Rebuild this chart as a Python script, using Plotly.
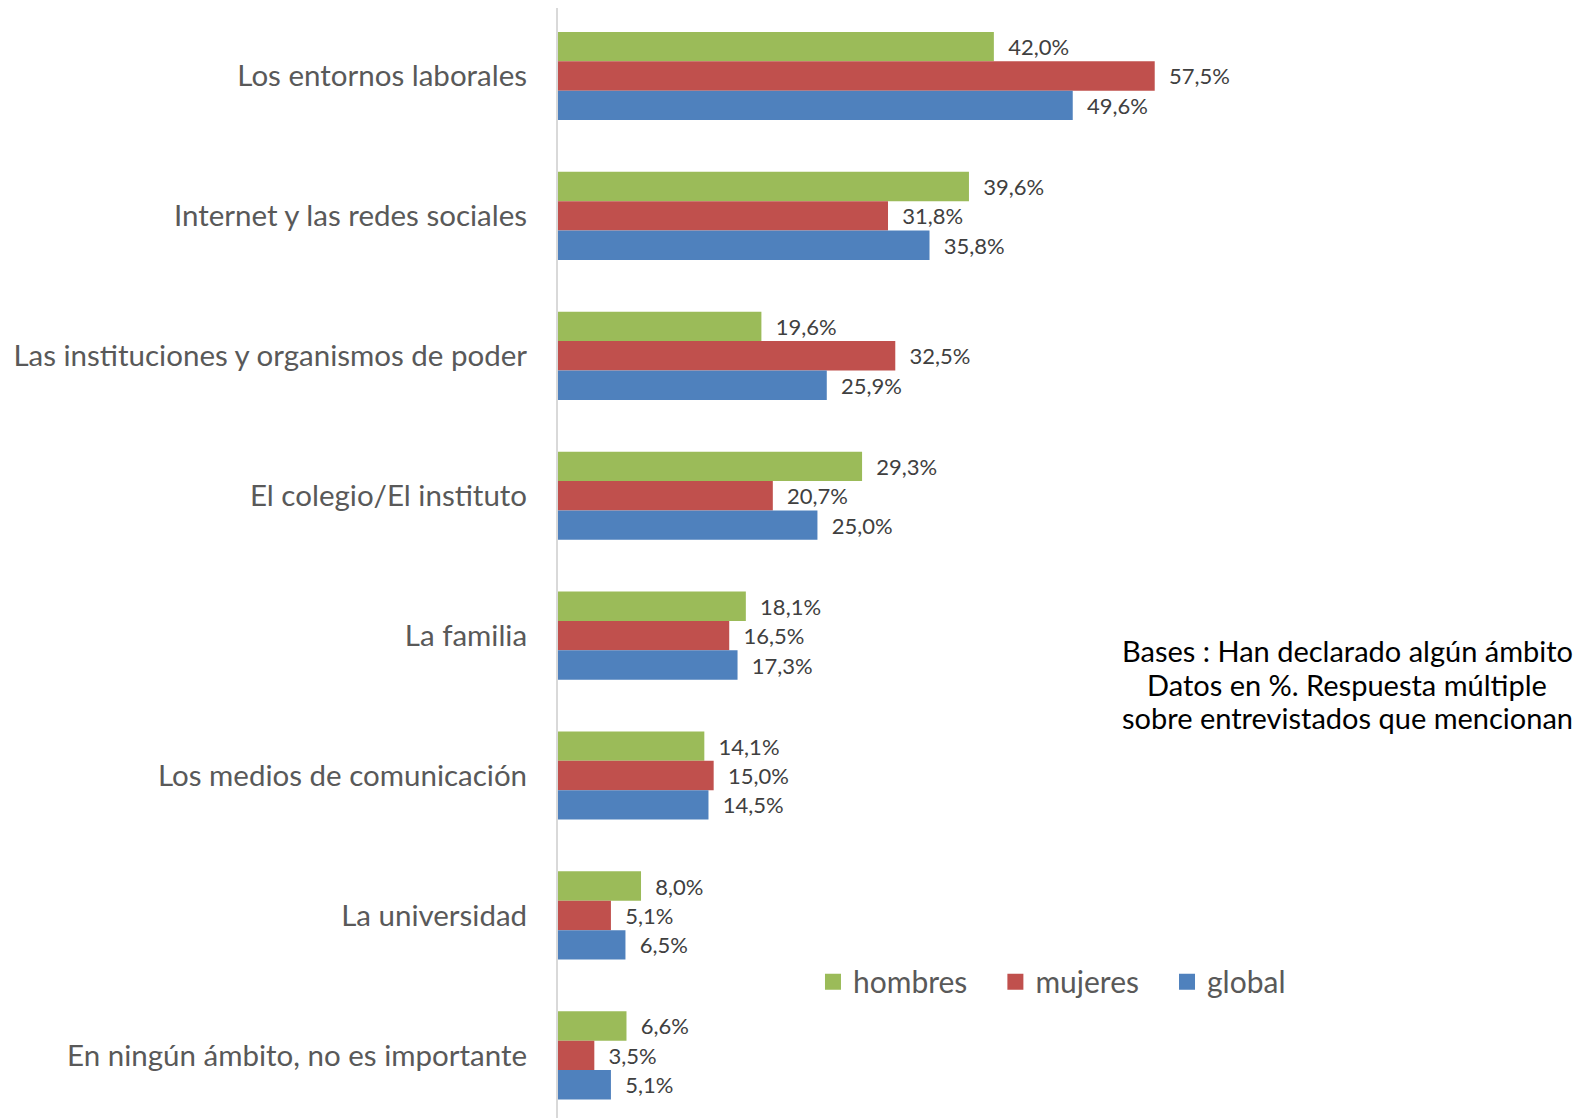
import plotly.graph_objects as go

categories = [
    "Los entornos laborales",
    "Internet y las redes sociales",
    "Las instituciones y organismos de poder",
    "El colegio/El instituto",
    "La familia",
    "Los medios de comunicación",
    "La universidad",
    "En ningún ámbito, no es importante",
]
hombres = [42.0, 39.6, 19.6, 29.3, 18.1, 14.1, 8.0, 6.6]
mujeres = [57.5, 31.8, 32.5, 20.7, 16.5, 15.0, 5.1, 3.5]
global_ = [49.6, 35.8, 25.9, 25.0, 17.3, 14.5, 6.5, 5.1]

note_lines = [
    "Bases : Han declarado algún ámbito",
    "Datos en %. Respuesta múltiple",
    "sobre entrevistados que mencionan",
]

series = [
    ("hombres", hombres, "#9BBB59"),
    ("mujeres", mujeres, "#C0504D"),
    ("global", global_, "#4F81BD"),
]

fig = go.Figure()
for name, vals, color in series:
    fig.add_trace(go.Bar(
        y=categories, x=vals, name=name, orientation="h", showlegend=False,
        marker=dict(color=color, line=dict(width=0)),
        text=["  " + f"{v:.1f}%".replace(".", ",") for v in vals],
        textposition="outside", cliponaxis=False,
        textfont=dict(family="Lato", size=22, color="#404040"),
    ))
# legend entries with bigger square swatches (nbsp padding widens the gaps)
for name, vals, color in series:
    fig.add_trace(go.Scatter(
        x=[None], y=[None], mode="markers", name=name + "\u00a0" * 3,
        marker=dict(symbol="square", size=20, color=color),
    ))

fig.update_layout(
    width=1594, height=1118,
    barmode="group", bargap=0.37, bargroupgap=0,
    paper_bgcolor="white", plot_bgcolor="white",
    margin=dict(l=550, r=110, t=0, b=0),
    font=dict(family="Lato", color="#595959"),
    showlegend=True,
    legend=dict(
        orientation="h", x=0.273, y=0.129, xanchor="left", yanchor="middle",
        font=dict(size=30, color="#595959"), traceorder="normal",
        itemwidth=30,
    ),
    annotations=[dict(
        text=line, xref="paper", yref="paper", x=0.845, y=yy,
        xanchor="center", yanchor="middle", showarrow=False,
        font=dict(family="Lato", size=29, color="#000000"),
    ) for line, yy in zip(note_lines, [0.425, 0.395, 0.365])],
)
fig.update_xaxes(range=[0, 90], showgrid=False, showticklabels=False, zeroline=False,
                 showline=False)
fig.update_yaxes(range=[7.505, -0.486], showgrid=False, showline=True, linecolor="#D9D9D9",
                 linewidth=2, ticks="", ticklabelstandoff=23,
                 tickfont=dict(family="Lato", size=29.5, color="#595959"))

fig.write_html("out.html")
